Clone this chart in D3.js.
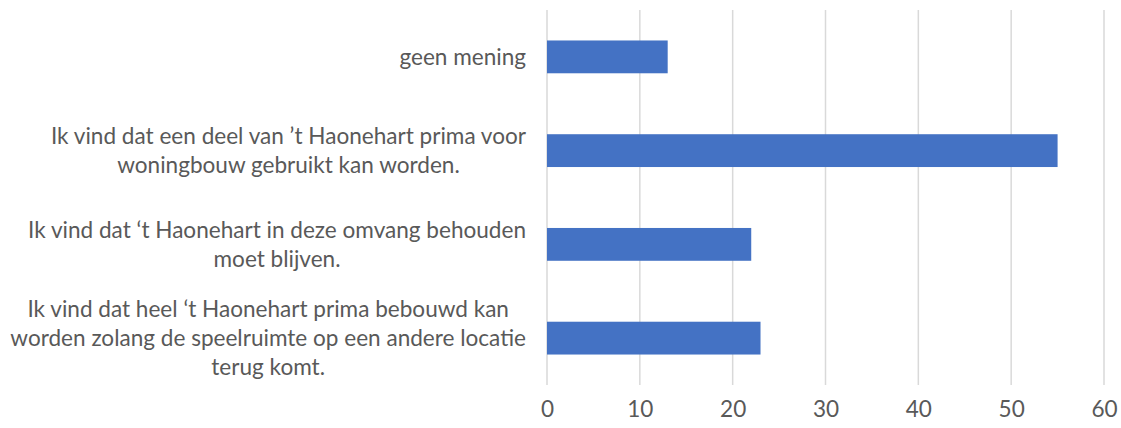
<!DOCTYPE html>
<html>
<head>
<meta charset="utf-8">
<script src="https://cdn.jsdelivr.net/npm/d3@7"></script>
<style>
  html, body { margin: 0; padding: 0; background: #fff; }
  svg { display: block; }
</style>
</head>
<body>
<div id="chart"></div>
<script>
// categories, top to bottom, with the line breaks as shown
const categories = [
  "geen mening",
  "Ik vind dat een deel van \u2019t Haonehart prima voor\nwoningbouw gebruikt kan worden.",
  "Ik vind dat \u2018t Haonehart in deze omvang behouden\nmoet blijven.",
  "Ik vind dat heel \u2018t Haonehart prima bebouwd kan\nworden zolang de speelruimte op een andere locatie\nterug komt."
]
const values = [13, 55, 22, 23]
const xTicks = [0, 10, 20, 30, 40, 50, 60]

const width = 1121, height = 428
const colormap = {
  bar: "#4472C4",
  grid: "#D9D9D9",
  text: "#595959"
}
const fontFamily = "Lato, 'Open Sans', sans-serif"

const svg = d3.select("#chart").append("svg")
  .attr("width", width)
  .attr("height", height)

const x = d3.scaleLinear().domain([0, 60]).range([547, 1104])
const y = d3.scaleBand().domain(d3.range(categories.length)).range([10, 385]).padding(0)
const barH = y.bandwidth() * 0.35

// gridlines
svg.append("g").selectAll("line")
  .data(xTicks)
  .join("line")
  .attr("x1", d => x(d)).attr("x2", d => x(d))
  .attr("y1", 10).attr("y2", 385)
  .attr("stroke", colormap.grid)
  .attr("stroke-width", 1.5)

// bars
svg.append("g").selectAll("rect")
  .data(values)
  .join("rect")
  .attr("x", x(0))
  .attr("y", (d, i) => y(i) + (y.bandwidth() - barH) / 2)
  .attr("width", d => x(d) - x(0))
  .attr("height", barH)
  .attr("fill", colormap.bar)

// x axis labels
const xAxis = svg.append("g")
  .attr("transform", "translate(0,385)")
  .call(d3.axisBottom(x).tickValues(xTicks).tickSize(0).tickPadding(16))
xAxis.select(".domain").remove()
xAxis.selectAll("text")
  .attr("font-family", fontFamily)
  .attr("font-size", 22)
  .attr("fill", colormap.text)

// category labels: block right-aligned, lines centred inside block
let fontSize = 22
const labelRight = 526
const lineH = 29

const labels = svg.append("g").selectAll("text")
  .data(categories)
  .join("text")
  .attr("font-family", fontFamily)
  .attr("font-size", fontSize)
  .attr("fill", colormap.text)
  .attr("text-anchor", "middle")

labels.each(function(d, i) {
  const lines = d.split("\n")
  const cy = y(i) + y.bandwidth() / 2
  const t = d3.select(this)
  lines.forEach((ln, k) => {
    t.append("tspan")
      .attr("y", cy + (k - (lines.length - 1) / 2) * lineH)
      .attr("dy", "0.35em")
      .text(ln)
  })
})

// fit font to the widest line of the reference (about 516px)
let widest = 0
labels.selectAll("tspan").each(function() { widest = Math.max(widest, this.getComputedTextLength()) })
fontSize = fontSize * 516 / widest
labels.attr("font-size", fontSize)
xAxis.selectAll("text").attr("font-size", fontSize)

labels.each(function() {
  let w = 0
  const spans = d3.select(this).selectAll("tspan")
  spans.each(function() { w = Math.max(w, this.getComputedTextLength()) })
  spans.attr("x", labelRight - w / 2)
})
</script>
</body>
</html>
